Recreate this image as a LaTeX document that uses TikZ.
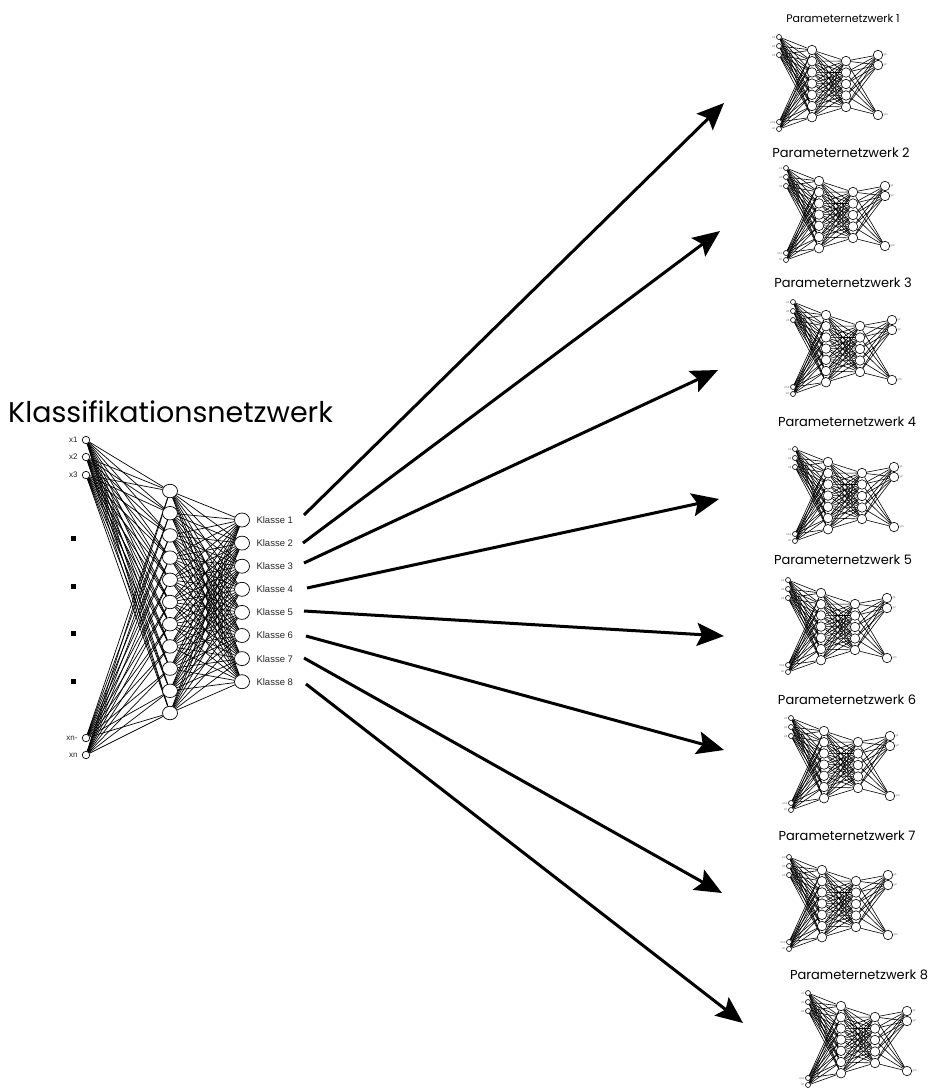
\documentclass[tikz,border=0pt]{standalone}
\usepackage{fontspec}
\setmainfont{Liberation Sans}
\newfontfamily\gothic{Poppins}
\usetikzlibrary{arrows.meta,shapes.geometric}
\pgfdeclarelayer{bg}
\pgfdeclarelayer{paper}
\pgfsetlayers{paper,bg,main}
\tikzset{
  kin/.style={circle,draw,fill=white,inner sep=0pt,minimum size=7.5pt,line width=0.7pt},
  khid/.style={ellipse,draw,fill=white,inner sep=0pt,minimum width=15pt,minimum height=13.5pt,line width=0.7pt},
  kout/.style={ellipse,draw,fill=white,inner sep=0pt,minimum width=15pt,minimum height=14pt,line width=0.7pt},
  kedge/.style={line width=0.7pt},
  klab/.style={anchor=west,font=\fontsize{9.5}{9.5}\selectfont,text=black!85},
  inlab/.style={anchor=east,font=\fontsize{8}{8}\selectfont,text=black!85},
  sq/.style={fill=black,inner sep=0pt,minimum size=5pt},
  pin/.style={circle,draw,fill=white,inner sep=0pt,minimum size=5pt,line width=0.6pt},
  phid/.style={circle,draw,fill=white,inner sep=0pt,minimum size=9.5pt,line width=0.6pt},
  pedge/.style={line width=0.6pt},
  plab/.style={font=\fontsize{3}{3}\selectfont,text=black!60,inner sep=0.5pt},
  ptitle/.style={font=\gothic\fontsize{13}{13}\selectfont},
  bigarrow/.style={line width=3pt,-{Stealth[length=27pt,width=23pt,inset=5pt]}},
}
\newcommand\pnet[3]{%
 \begin{scope}[shift={(#2,#3)}]
  \foreach \n/\y/\l in {1/0/x1,2/9/x2,3/18/x3,4/85/xn1,5/92/xn} {
    \node[pin] (#1i\n) at (0,\y) {};
    \node[plab,anchor=east] (#1il\n) at (-3,\y) {\l};
  }
  \foreach \n in {1,...,7} \node[phid] (#1h\n) at (33,{13+11.2*(\n-1)}) {};
  \foreach \n in {1,...,5} \node[phid] (#1g\n) at (67,{24+11.5*(\n-1)}) {};
  \foreach \n/\y/\l in {1/18/y1,2/28/y2,3/78/ym} {
    \node[phid] (#1o\n) at (99,\y) {};
    \node[plab,anchor=west] (#1ol\n) at (104,\y) {\l};
  }
  \begin{pgfonlayer}{bg}
   \foreach \a in {1,...,5} \foreach \b in {1,...,7} \draw[pedge] (#1i\a) -- (#1h\b);
   \foreach \a in {1,...,7} \foreach \b in {1,...,5} \draw[pedge] (#1h\a) -- (#1g\b);
   \foreach \a in {1,...,5} \foreach \b in {1,...,3} \draw[pedge] (#1g\a) -- (#1o\b);
  \end{pgfonlayer}
 \end{scope}}

\begin{document}
\begin{tikzpicture}[x=1pt,y=-1pt]
\useasboundingbox (0,0) rectangle (930,1088);
\begin{pgfonlayer}{paper}
\fill[white] (0,0) rectangle (930,1088);
\end{pgfonlayer}

% ---- Klassifikationsnetzwerk ----
\node[anchor=base west,font=\gothic\fontsize{28.5}{28.5}\selectfont,inner sep=0pt] (ktitle) at (8,422) {Klassifikationsnetzwerk};

\foreach \n/\y/\l in {1/440/x1,2/457/x2,3/475/x3,4/738/xn-,5/755/xn} {
  \node[kin] (ki\n) at (86,\y) {};
  \node[inlab] (kil\n) at (81,\y) {\l};
}
\foreach \i in {0,...,10} \node[khid] (kh\i) at (170,{491+22.2*\i}) {};
\foreach \i in {1,...,8} {
  \node[kout] (ko\i) at (242,{520+23.1*(\i-1)}) {};
  \node[klab] (kl\i) at (253,{520+23.1*(\i-1)}) {Klasse \i};
}
\foreach \i/\y in {1/538,2/586,3/633,4/681} \node[sq] (dot\i) at (73,\y) {};

\begin{pgfonlayer}{bg}
 \foreach \a in {1,...,5} \foreach \b in {0,...,10} \draw[kedge] (ki\a) -- (kh\b);
 \foreach \a in {0,...,10} \foreach \b in {1,...,8} \draw[kedge] (kh\a) -- (ko\b);
\end{pgfonlayer}

% ---- Parameternetzwerke ----
\pnet{pa}{779}{37}
\pnet{pb}{786}{168}
\pnet{pc}{793}{302}
\pnet{pd}{795}{449}
\pnet{pe}{788}{580}
\pnet{pf}{791}{718}
\pnet{pg}{789}{857}
\pnet{ph}{808}{993}

\node[ptitle,font=\gothic\fontsize{11}{11}\selectfont] (ta) at (843,18) {Parameternetzwerk 1};
\node[ptitle] (tb) at (841,153) {Parameternetzwerk 2};
\node[ptitle] (tc) at (843,283) {Parameternetzwerk 3};
\node[ptitle] (td) at (847,422) {Parameternetzwerk 4};
\node[ptitle] (te) at (843,560) {Parameternetzwerk 5};
\node[ptitle] (tf) at (847,700) {Parameternetzwerk 6};
\node[ptitle] (tg) at (847,836) {Parameternetzwerk 7};
\node[ptitle] (th) at (859,975) {Parameternetzwerk 8};

% ---- arrows ----
\foreach \i/\sx/\sy/\tx/\ty in {1/304/515/724/103, 2/303/543/720/231, 3/304/563/718/370, 4/307/588/719/499,
  5/304/611/724/636, 6/306/636/724/750, 7/304/658/722/893, 8/306/684/743/1023} {
  \coordinate (s\i) at (\sx,\sy);
  \coordinate (t\i) at (\tx,\ty);
  \draw[bigarrow] (s\i) -- (t\i);
}
\end{tikzpicture}
\end{document}
